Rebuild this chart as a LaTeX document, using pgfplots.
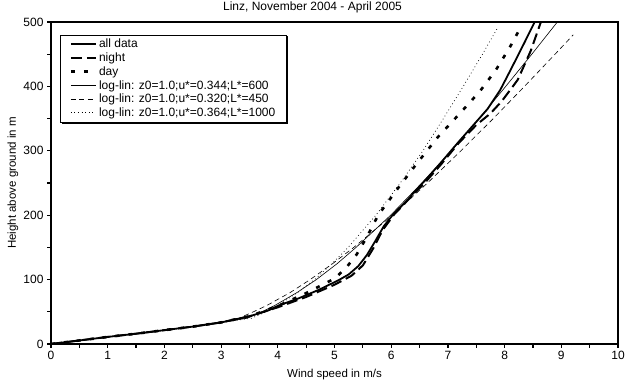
\documentclass[border=0pt]{standalone}
\usepackage{pgfplots}
\pgfplotsset{compat=1.18}
\usepackage{fontspec}
\setmainfont{Liberation Sans}
\begin{document}
\begin{tikzpicture}
\begin{axis}[
  scale only axis,
  width=567pt, height=322pt,
  xmin=0, xmax=10, ymin=0, ymax=500,
  xtick={0,1,...,10}, ytick={0,100,...,500},
  minor x tick num=1, minor y tick num=1,
  tick pos=left, tick align=outside,
  major tick length=4pt, minor tick length=4pt,
  tick style={black, line width=1.2pt},
  axis line style={line width=1.6pt},
  /pgf/number format/assume math mode=true,
  ticklabel style={font=\fontsize{12}{14}\selectfont},
  xlabel={Wind speed in m/s},
  ylabel={Height above ground in m},
  label style={font=\fontsize{11.5}{13}\selectfont},
  xlabel style={at={(0.5,0)}, anchor=center, yshift=-31pt},
  ylabel style={at={(0,0.5)}, anchor=center, yshift=38pt},
  title={Linz, November 2004 - April 2005},
  title style={font=\fontsize{12}{14}\selectfont, at={(0.5,1)}, anchor=center, xshift=-22pt, yshift=9pt},
  legend style={name=leg, at={(0.016,0.96)}, anchor=north west, draw=black, line width=0.8pt,
    fill=white, font=\fontsize{12}{13}\selectfont, cells={anchor=west},
    inner xsep=9pt, inner ysep=2pt, row sep=-0.5pt},
  legend image code/.code={\draw[#1] (0pt,0pt) -- (25pt,0pt);},
  every axis plot/.append style={black},
]
\addplot[line width=1.8pt] coordinates {
(0,0) (0.5,5.5) (1,11) (1.5,16) (2,21.5) (2.5,27) (3,33.5)
(3.5,43) (3.83,52) (4.02,60) (4.37,71) (4.72,84) (5.07,99) (5.25,108)
(5.42,121) (5.57,138) (5.72,160) (5.87,183) (6.05,203) (6.25,220) (6.45,240)
(6.65,259) (6.88,282) (7.18,313) (7.45,340) (7.7,365) (7.92,394) (8.12,428)
(8.35,468) (8.53,500)};
\addlegendentry{all data}
\addplot[line width=2pt, dash pattern=on 11pt off 5pt] coordinates {
(0,0) (0.5,5.5) (1,11) (1.5,16) (2,21.5) (2.5,27) (3,33.5)
(3.5,43) (4.0,57) (4.5,73) (5.0,92) (5.3,106) (5.5,122) (5.68,148)
(5.85,177) (6.05,201) (6.3,224) (6.59,250) (6.88,279) (7.2,313)
(7.5,340) (7.75,358) (7.95,377) (8.23,410) (8.46,455) (8.64,500)};
\addlegendentry{night}
\addplot[line width=2.6pt, dash pattern=on 4pt off 9pt] coordinates {
(0,0) (0.5,5.5) (1,11) (1.5,16) (2,21.5) (2.5,27) (3,33.5)
(3.5,43) (4.0,59) (4.5,79) (5.01,102) (5.22,120) (5.39,139) (5.57,166)
(5.77,200) (6.12,242) (6.45,280) (6.82,321) (7.2,357) (7.56,392)
(7.85,426) (8.1,462) (8.26,488)};
\addlegendentry{day}
\addplot[line width=0.6pt] coordinates {
(0,0) (0.5,5.5) (1,11) (1.5,16) (2,21.5) (2.5,27) (3,33.5)
(3.46,40) (3.72,50) (3.95,60) (4.34,80) (4.68,100) (5.05,125) (5.38,150)
(5.99,200) (6.54,250) (7.06,300) (7.55,350) (8.02,400) (8.48,450) (8.93,500)};
\addlegendentry{log-lin: z0=1.0;u*=0.344;L*=600}
\addplot[line width=0.6pt, dash pattern=on 5pt off 3.5pt] coordinates {
(0,0) (0.5,5.5) (1,11) (1.5,16) (2,21.5) (2.5,27) (3,33.5)
(3.31,40) (3.57,50) (3.81,60) (4.22,80) (4.57,100) (4.97,125) (5.34,150)
(6.02,200) (6.64,250) (7.23,300) (7.80,350) (8.35,400) (8.89,450) (9.21,480)};
\addlegendentry{log-lin: z0=1.0;u*=0.320;L*=450}
\addplot[line width=0.7pt, dash pattern=on 0.8pt off 2.8pt] coordinates {
(0,0) (0.5,5.5) (1,11) (1.5,16) (2,21.5) (2.5,27) (3,33.5)
(3.54,40) (3.79,50) (4.0,60) (4.35,80) (4.65,100) (4.96,125) (5.24,150)
(5.73,200) (6.16,250) (6.56,300) (6.92,350) (7.27,400) (7.61,450) (7.87,490)};
\addlegendentry{log-lin: z0=1.0;u*=0.364;L*=1000}
\end{axis}
\fill[black] ([xshift=1.5pt]leg.south west) rectangle ([xshift=1.5pt,yshift=-1.5pt]leg.south east);
\fill[black] (leg.south east) rectangle ([xshift=1.5pt,yshift=-1.5pt]leg.north east);
\pgfresetboundingbox
\path ([shift={(-51pt,-41pt)}]current axis.south west) rectangle ([shift={(8pt,22pt)}]current axis.north east);
\end{tikzpicture}
\end{document}
